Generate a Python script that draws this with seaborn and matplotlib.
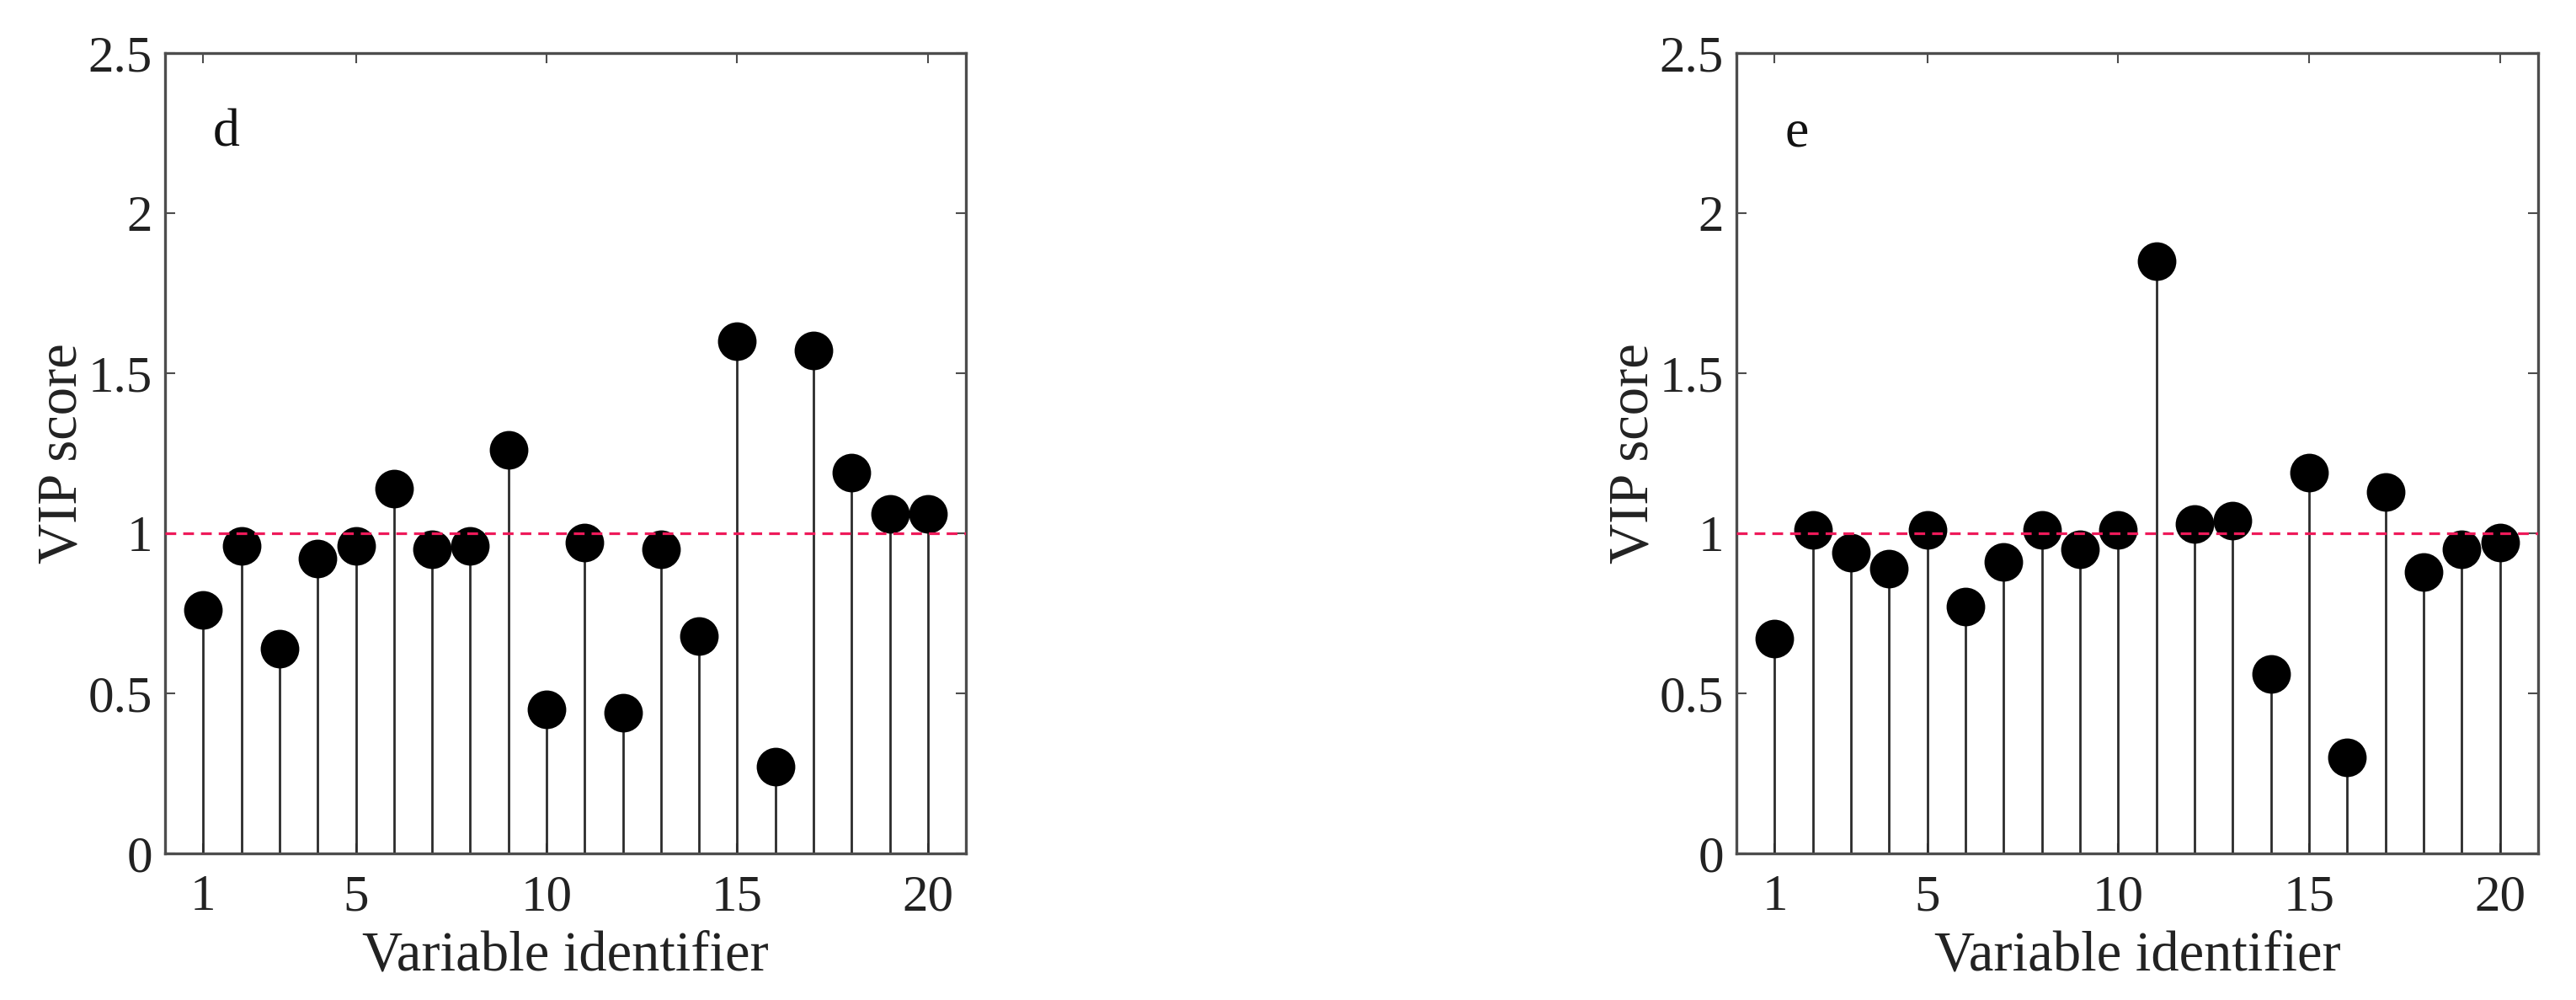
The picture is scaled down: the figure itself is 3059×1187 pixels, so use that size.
import matplotlib
matplotlib.use("Agg")
import matplotlib.pyplot as plt
import seaborn as sns
import pandas as pd

# variable ids 1..20
variable_ids = list(range(1, 21))

# VIP scores
vip_d = [0.76, 0.96, 0.64, 0.92, 0.96, 1.14, 0.95, 0.96, 1.26, 0.45,
         0.97, 0.44, 0.95, 0.68, 1.60, 0.27, 1.57, 1.19, 1.06, 1.06]
vip_e = [0.67, 1.01, 0.94, 0.89, 1.01, 0.77, 0.91, 1.01, 0.95, 1.01,
         1.85, 1.03, 1.04, 0.56, 1.19, 0.30, 1.13, 0.88, 0.95, 0.97]

panel_labels = ["d", "e"]
x_ticks = [1, 5, 10, 15, 20]
y_ticks = [0, 0.5, 1, 1.5, 2, 2.5]
y_tick_labels = ["0", "0.5", "1", "1.5", "2", "2.5"]
threshold = 1.0

sns.set_style("ticks")
plt.rcParams['font.family'] = ['Liberation Serif', 'DejaVu Serif']

axis_grey = "#4d4d4d"

fig = plt.figure(figsize=(30.59, 11.87), dpi=100)
ax_d = fig.add_axes([0.0641, 0.1466, 0.3109, 0.8003])
ax_e = fig.add_axes([0.6741, 0.1466, 0.3112, 0.8003])

for ax, vals, lab in zip([ax_d, ax_e], [vip_d, vip_e], panel_labels):
    df = pd.DataFrame({"var": variable_ids, "vip": vals})

    # stems
    ax.vlines(df["var"], 0, df["vip"], color="#2b2b2b", linewidth=2.0, zorder=2)
    # heads
    sns.scatterplot(data=df, x="var", y="vip", ax=ax, s=33 ** 2, color="black",
                    edgecolor="black", linewidth=0, zorder=3, legend=False)
    # VIP = 1 cut-off, drawn over the markers like the original
    ax.axhline(threshold, color="#ee1a5a", linestyle=(0, (4, 2.6)),
               linewidth=2.3, zorder=4)

    ax.set_xlim(0, 21)
    ax.set_ylim(0, 2.5)
    ax.set_xticks(x_ticks)
    ax.set_yticks(y_ticks)
    ax.set_yticklabels(y_tick_labels)
    ax.tick_params(direction="in", length=8.5, width=1.5, color=axis_grey,
                   top=True, right=True, labelsize=44, labelcolor="#222222")
    ax.tick_params(axis="x", pad=18)
    ax.tick_params(axis="y", pad=11)
    for side in ["left", "right", "top", "bottom"]:
        ax.spines[side].set_visible(True)
        ax.spines[side].set_color(axis_grey)
        ax.spines[side].set_linewidth(2.4)

    ax.set_xlabel("Variable identifier", fontsize=48, color="#222222", labelpad=8)
    ax.set_ylabel("VIP score", fontsize=48, color="#222222", labelpad=0)
    ax.text(0.06, 0.884, lab, transform=ax.transAxes, fontsize=46,
            color="#111111", ha="left", va="baseline")

fig.savefig("out.png", dpi=100)
